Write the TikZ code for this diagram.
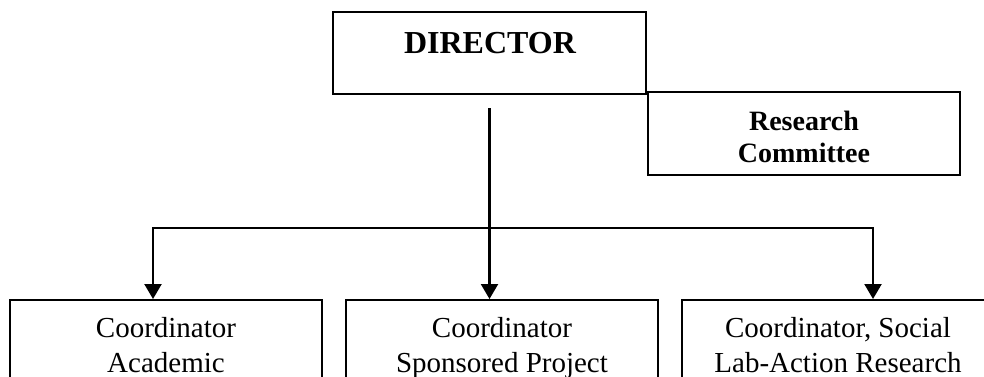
\documentclass[tikz,border=0pt]{standalone}
\usepackage{fontspec}
\setmainfont{Liberation Serif}
\usetikzlibrary{arrows.meta}
\begin{document}
\begin{tikzpicture}[x=1pt,y=-1pt,
  box/.style={draw,line width=2pt,rectangle,inner sep=0pt},
  lbl/.style={align=center,inner sep=0pt,anchor=base},
  conn/.style={line width=2.2pt},
  arr/.style={line width=2.2pt,-{Triangle[length=15pt,width=17pt]}}]
\useasboundingbox (0,0) rectangle (984,376);
\clip (0,0) rectangle (984,376);
% top boxes
\node[box,minimum width=313pt,minimum height=82pt] (dir) at (489.5,53) {};
\node[lbl,font=\bfseries\fontsize{32}{36}\selectfont] (dirt) at (490,53) {DIRECTOR};
\node[box,minimum width=312pt,minimum height=83pt] (rc) at (804,133.5) {};
\node[lbl,font=\bfseries\fontsize{28}{32}\selectfont] (rct) at (804,162) {Research\\Committee};
% bottom boxes
\node[box,minimum width=312pt,minimum height=140pt,anchor=north] (c1) at (166,299) {};
\node[box,minimum width=312pt,minimum height=140pt,anchor=north] (c2) at (502,299) {};
\node[box,minimum width=312pt,minimum height=140pt,anchor=north] (c3) at (838,299) {};
\node[lbl,font=\fontsize{29}{35}\selectfont] (c1t) at (166,372) {Coordinator\\Academic};
\node[lbl,font=\fontsize{29}{35}\selectfont] (c2t) at (502,372) {Coordinator\\Sponsored Project};
\node[lbl,font=\fontsize{29}{35}\selectfont] (c3t) at (838,372) {Coordinator, Social\\Lab-Action Research};
% connectors
\coordinate (start) at (489.5,108);
\coordinate (bl) at (153,228);
\coordinate (br) at (873,228);
\draw[arr] (start) -- (start |- c2.north);
\draw[conn] (bl) -- (br);
\draw[arr] ([yshift=1pt]bl) -- (bl |- c1.north);
\draw[arr] ([yshift=1pt]br) -- (br |- c3.north);
\end{tikzpicture}
\end{document}
